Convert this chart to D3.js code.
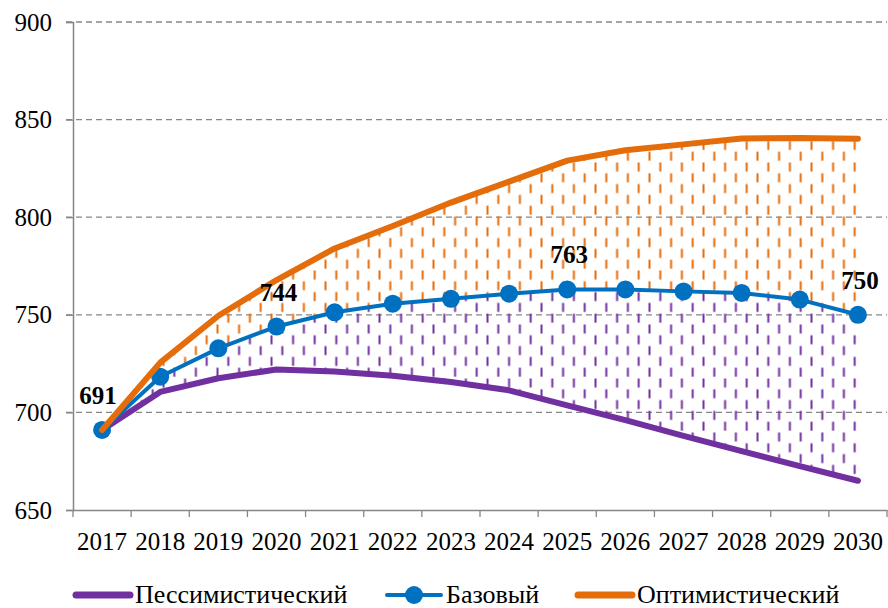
<!DOCTYPE html>
<html>
<head>
<meta charset="utf-8">
<script src="https://cdn.jsdelivr.net/npm/d3@7"></script>
<style>
  body { margin: 0; background: #fff; }
  text { font-family: "Liberation Serif", "Times New Roman", Times, serif; }
</style>
</head>
<body>
<svg width="888" height="608"></svg>
<script>
const years = [2017, 2018, 2019, 2020, 2021, 2022, 2023, 2024, 2025, 2026, 2027, 2028, 2029, 2030];
const pessimistic = [691, 710.5, 717.5, 722, 721, 718.8, 715.6, 711.3, 703.6, 696, 688, 680.2, 672.5, 665];
const base = [691, 718.3, 732.8, 744, 751.3, 755.7, 758.2, 760.8, 763, 763, 762, 761.2, 757.8, 750];
const optimistic = [691, 725.5, 749.5, 767.8, 784, 795.5, 807.5, 818.2, 829, 834.3, 837.3, 840.3, 840.6, 840.2];
const yTicks = [650, 700, 750, 800, 850, 900];
const labelled = [0, 3, 8, 13];   // indices of base points with value labels
const legendNames = ["Пессимистический", "Базовый", "Оптимистический"];

const purple = "#7030A0", blue = "#0070C0", orange = "#E46C0A", grey = "#868686";

const svg = d3.select("svg");

const x = d3.scaleBand().domain(years).range([73, 887]).padding(0);
const y = d3.scaleLinear().domain([650, 900]).range([510, 22]);
const cx = d => x(d) + x.bandwidth() / 2;

// hatch patterns
const defs = svg.append("defs");
[["hatchO", orange], ["hatchP", purple]].forEach(([id, col]) => {
  const p = defs.append("pattern").attr("id", id)
    .attr("patternUnits", "userSpaceOnUse")
    .attr("width", 21.6).attr("height", 21.6);
  p.append("line").attr("x1", 1.5).attr("x2", 1.5).attr("y1", 0.5).attr("y2", 9.5)
    .attr("stroke", col).attr("stroke-width", 2);
  p.append("line").attr("x1", 12.3).attr("x2", 12.3).attr("y1", 11.3).attr("y2", 20.3)
    .attr("stroke", col).attr("stroke-width", 2);
});

// gridlines
svg.append("g").selectAll("line").data(yTicks.slice(1)).join("line")
  .attr("x1", 66).attr("x2", 887)
  .attr("y1", d => y(d)).attr("y2", d => y(d))
  .attr("stroke", grey).attr("stroke-width", 1.3)
  .attr("stroke-dasharray", "6,4");

// hatched areas
const idx = d3.range(years.length);
svg.append("path")
  .attr("d", d3.area().x(i => cx(years[i])).y0(i => y(base[i])).y1(i => y(optimistic[i]))(idx))
  .attr("fill", "url(#hatchO)");
svg.append("path")
  .attr("d", d3.area().x(i => cx(years[i])).y0(i => y(pessimistic[i])).y1(i => y(base[i]))(idx))
  .attr("fill", "url(#hatchP)");

// y axis
const yAxis = svg.append("g").attr("transform", "translate(73,0)")
  .call(d3.axisLeft(y).tickValues(yTicks).tickSize(7).tickPadding(14));
yAxis.select(".domain").attr("stroke", grey).attr("stroke-width", 1.5);
yAxis.selectAll(".tick line").attr("stroke", grey).attr("stroke-width", 1.3);
yAxis.selectAll(".tick text").attr("font-size", 25).attr("fill", "#000");

// x axis
const xAxis = svg.append("g").attr("transform", "translate(0,510)")
  .call(d3.axisBottom(x).tickSize(0).tickPadding(22));
xAxis.select(".domain").attr("stroke", grey).attr("stroke-width", 1.5);
xAxis.selectAll(".tick text").attr("font-size", 25).attr("fill", "#000");
xAxis.selectAll("line.edge").data(years.map(d => x(d)).concat([x.range()[1]])).join("line")
  .attr("class", "edge")
  .attr("x1", d => d).attr("x2", d => d).attr("y1", 0).attr("y2", 7)
  .attr("stroke", grey).attr("stroke-width", 1.3);

// lines
const line = vals => d3.line().x((d, i) => cx(years[i])).y(d => y(d))(vals);
svg.append("path").attr("d", line(pessimistic)).attr("fill", "none")
  .attr("stroke", purple).attr("stroke-width", 6).attr("stroke-linecap", "round").attr("stroke-linejoin", "round");
svg.append("path").attr("d", line(base)).attr("fill", "none")
  .attr("stroke", blue).attr("stroke-width", 4).attr("stroke-linejoin", "round");
svg.append("g").selectAll("circle").data(base).join("circle")
  .attr("cx", (d, i) => cx(years[i])).attr("cy", d => y(d)).attr("r", 9)
  .attr("fill", blue);
svg.append("path").attr("d", line(optimistic)).attr("fill", "none")
  .attr("stroke", orange).attr("stroke-width", 6).attr("stroke-linecap", "round").attr("stroke-linejoin", "round");

// value labels
svg.append("g").selectAll("text").data(labelled).join("text")
  .attr("x", i => cx(years[i]) + (i === 0 ? -4 : 2))
  .attr("y", i => y(base[i]) - 26)
  .attr("text-anchor", "middle")
  .attr("font-size", 25).attr("font-weight", "bold")
  .text(i => Math.round(base[i]));

// legend
const legendX = [76, 387, 578];
const legendCol = [purple, blue, orange];
const lg = svg.append("g").selectAll("g").data(legendNames).join("g")
  .attr("transform", (d, i) => `translate(${legendX[i]},595)`);
lg.append("line").attr("x1", 0).attr("x2", 54).attr("y1", 0).attr("y2", 0)
  .attr("stroke", (d, i) => legendCol[i]).attr("stroke-width", (d, i) => i === 1 ? 4 : 7)
  .attr("stroke-linecap", "round");
lg.filter((d, i) => i === 1).append("circle").attr("cx", 27).attr("r", 9).attr("fill", blue);
lg.append("text").attr("x", 59).attr("y", 8).attr("font-size", 26).text(d => d);
</script>
</body>
</html>
